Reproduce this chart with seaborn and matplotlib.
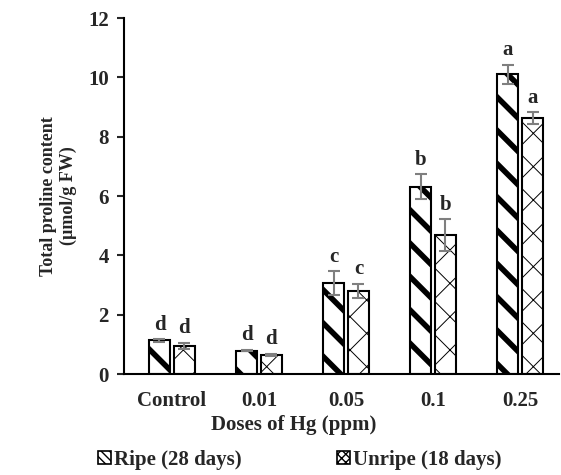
import seaborn as sns
from matplotlib import pyplot as plt
import matplotlib.patches as mpatches
import pandas as pd

doses = ["Control", "0.01", "0.05", "0.1", "0.25"]
stages = ["Ripe (28 days)", "Unripe (18 days)"]
ripe = [1.13, 0.79, 3.07, 6.32, 10.10]
unripe = [0.95, 0.65, 2.80, 4.69, 8.63]
ripe_err = [0.05, 0.03, 0.39, 0.42, 0.32]
unripe_err = [0.10, 0.04, 0.25, 0.53, 0.20]
ripe_letters = ["d", "d", "c", "b", "a"]
unripe_letters = ["d", "d", "c", "b", "a"]

df = pd.DataFrame({
    "Dose": doses * 2,
    "Stage": [stages[0]] * 5 + [stages[1]] * 5,
    "Proline": ripe + unripe,
})

sns.set_style("white")
plt.rcParams["font.family"] = ["Liberation Serif", "DejaVu Serif"]
plt.rcParams["font.weight"] = "bold"
plt.rcParams["hatch.color"] = "black"

fig = plt.figure(figsize=(5.61, 4.75), dpi=100)
ax = fig.add_axes([0.221, 0.2126, 0.776, 0.7495])

sns.barplot(data=df, x="Dose", y="Proline", hue="Stage", order=doses,
            hue_order=stages, width=0.57, gap=0.158, errorbar=None,
            palette=["white", "white"], edgecolor="black", linewidth=1.5,
            legend=False, ax=ax)

hatches = ["\\", "x"]
hatch_lw = [4.0, 0.7]
errs = [ripe_err, unripe_err]
letters = [ripe_letters, unripe_letters]
bar_conts = list(ax.containers)
for k, cont in enumerate(bar_conts):
    xs = []
    hs = []
    for bar in cont:
        bar.set_hatch(hatches[k])
        if hasattr(bar, "set_hatch_linewidth"):
            bar.set_hatch_linewidth(hatch_lw[k])
        xs.append(bar.get_x() + bar.get_width() / 2)
        hs.append(bar.get_height())
    ax.errorbar(xs, hs, yerr=errs[k], fmt="none", ecolor="#7f7f7f",
                elinewidth=1.5, capsize=4.5, capthick=1.5, zorder=5)
    for x, h, e, t in zip(xs, hs, errs[k], letters[k]):
        ax.text(x, h + e + 0.15, t, ha="center", va="bottom",
                fontsize=15, fontweight="bold")

ax.set_ylim(0, 12)
ax.set_yticks(range(0, 13, 2))
ax.set_xlim(-0.55, 4.45)
sns.despine(ax=ax)
for s in ["left", "bottom"]:
    ax.spines[s].set_linewidth(1.5)
    ax.spines[s].set_color("black")
ax.tick_params(axis="y", direction="out", length=5, width=1.5, left=True,
               labelsize=15, pad=6)
ax.tick_params(axis="x", length=0, labelsize=15, pad=12)
for lab in ax.get_xticklabels() + ax.get_yticklabels():
    lab.set_fontweight("bold")
ax.set_xlabel("")
ax.set_ylabel("Total proline content\n(\u00b5mol/g FW)", fontsize=13,
              fontweight="bold", labelpad=8)

fig.text(294 / 561, 1 - 425 / 475, "Doses of Hg (ppm)", ha="center",
         va="center", fontsize=15, fontweight="bold")

plt.rcParams["hatch.linewidth"] = 1.0
handles = [
    mpatches.Patch(facecolor="white", edgecolor="black", hatch="\\\\\\\\",
                   linewidth=1.2, label=stages[0]),
    mpatches.Patch(facecolor="white", edgecolor="black", hatch="xxxx",
                   linewidth=1.2, label=stages[1]),
]
leg = fig.legend(handles=handles, loc="center", ncol=2,
                 bbox_to_anchor=(300 / 561, 1 - 460 / 475), frameon=False,
                 handlelength=0.6, handleheight=0.6, handletextpad=0.15,
                 columnspacing=4.6, prop={"size": 15, "weight": "bold"})

fig.savefig("out.png", dpi=100)
